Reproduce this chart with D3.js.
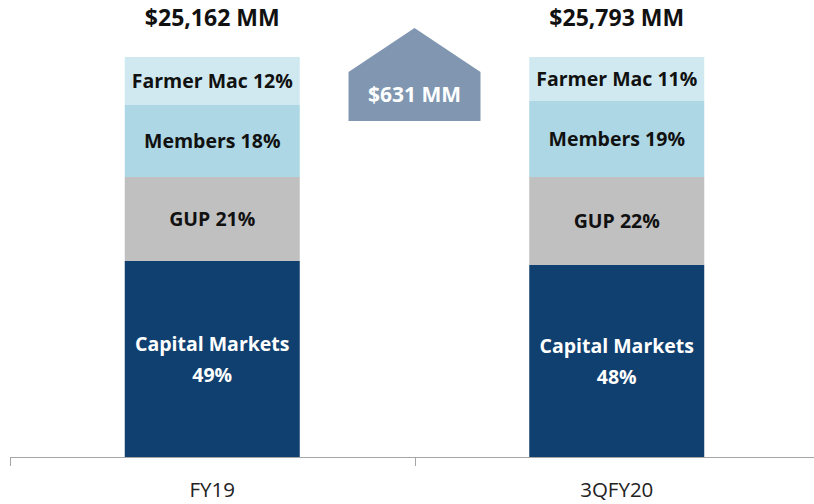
<!DOCTYPE html>
<html>
<head>
<meta charset="utf-8">
<script src="https://cdn.jsdelivr.net/npm/d3@7"></script>
<style>
  body { margin: 0; background: #fff; }
  text { font-family: "Open Sans", sans-serif; }
</style>
</head>
<body>
<div id="chart"></div>
<script>
// Data
const periods = ["FY19", "3QFY20"];
const totals = ["$25,162 MM", "$25,793 MM"];
const segments = ["Capital Markets", "GUP", "Members", "Farmer Mac"];
const shares = {
  "FY19": [49, 21, 18, 12],
  "3QFY20": [48, 22, 19, 11]
};
const changeLabel = "$631 MM";

const colors = ["#10406f", "#c0c0c0", "#add7e4", "#d0e9f0"];
const textColors = ["#ffffff", "#111111", "#111111", "#111111"];

const width = 814;
const height = 504;
const margin = { top: 57, bottom: 47, left: 10, right: -5 };

const svg = d3.select("#chart")
  .append("svg")
  .attr("width", width)
  .attr("height", height);

// Scales
const x = d3.scaleBand()
  .domain(periods)
  .range([margin.left, width - margin.right])
  .padding(0);

const y = d3.scaleLinear()
  .domain([0, 100])
  .range([height - margin.bottom, margin.top]);

const barWidth = 175;

// Stack the shares
const rows = periods.map(p => {
  const r = { period: p };
  segments.forEach((s, i) => r[s] = shares[p][i]);
  return r;
});
const stacked = d3.stack().keys(segments)(rows);

const layers = svg.append("g")
  .selectAll("g")
  .data(stacked)
  .join("g")
  .attr("fill", (d, i) => colors[i]);

layers.selectAll("rect")
  .data(d => d)
  .join("rect")
  .attr("x", d => x(d.data.period) + x.bandwidth() / 2 - barWidth / 2)
  .attr("width", barWidth)
  .attr("y", d => y(d[1]))
  .attr("height", d => y(d[0]) - y(d[1]));

// Segment labels
stacked.forEach((layer, i) => {
  layer.forEach(d => {
    const cx = x(d.data.period) + x.bandwidth() / 2;
    const cy = (y(d[0]) + y(d[1])) / 2;
    const pct = d[1] - d[0];
    const t = svg.append("text")
      .attr("x", cx)
      .attr("text-anchor", "middle")
      .attr("font-size", "19.5px")
      .attr("font-weight", "bold")
      .attr("fill", textColors[i]);
    if (segments[i] === "Capital Markets") {
      t.append("tspan").attr("x", cx).attr("y", cy - 15).attr("dy", "0.35em").text(segments[i]);
      t.append("tspan").attr("x", cx).attr("y", cy + 16).attr("dy", "0.35em").text(pct + "%");
    } else {
      t.attr("y", cy).attr("dy", "0.35em").text(segments[i] + " " + pct + "%");
    }
  });
});

// Totals above bars
svg.append("g")
  .selectAll("text")
  .data(periods)
  .join("text")
  .attr("x", d => x(d) + x.bandwidth() / 2)
  .attr("y", 18)
  .attr("dy", "0.35em")
  .attr("text-anchor", "middle")
  .attr("font-size", "23px")
  .attr("font-weight", "bold")
  .attr("fill", "#111")
  .text((d, i) => totals[i]);

// Axis
const axisY = y(0);
svg.append("line")
  .attr("x1", margin.left).attr("x2", width)
  .attr("y1", axisY + 0.5).attr("y2", axisY + 0.5)
  .attr("stroke", "#a6a6a6");

svg.append("g")
  .selectAll("line")
  .data(periods)
  .join("line")
  .attr("x1", d => Math.round(x(d)) + 0.5)
  .attr("x2", d => Math.round(x(d)) + 0.5)
  .attr("y1", axisY)
  .attr("y2", axisY + 9)
  .attr("stroke", "#a6a6a6");

svg.append("g")
  .selectAll("text")
  .data(periods)
  .join("text")
  .attr("x", d => x(d) + x.bandwidth() / 2)
  .attr("y", 490)
  .attr("dy", "0.35em")
  .attr("text-anchor", "middle")
  .attr("font-size", "20.5px")
  .attr("fill", "#222")
  .text(d => d);

// Change arrow between the bars
const ax = x(periods[1]);
const arrowW = 132;
const arrowPts = [
  [ax - arrowW / 2, 72],
  [ax, 28],
  [ax + arrowW / 2, 72],
  [ax + arrowW / 2, 121],
  [ax - arrowW / 2, 121]
];
svg.append("path")
  .attr("d", d3.line()(arrowPts) + "Z")
  .attr("fill", "#8197b1");

svg.append("text")
  .attr("x", ax)
  .attr("y", 95)
  .attr("dy", "0.35em")
  .attr("text-anchor", "middle")
  .attr("font-size", "21px")
  .attr("font-weight", "bold")
  .attr("fill", "#ffffff")
  .text(changeLabel);
</script>
</body>
</html>
